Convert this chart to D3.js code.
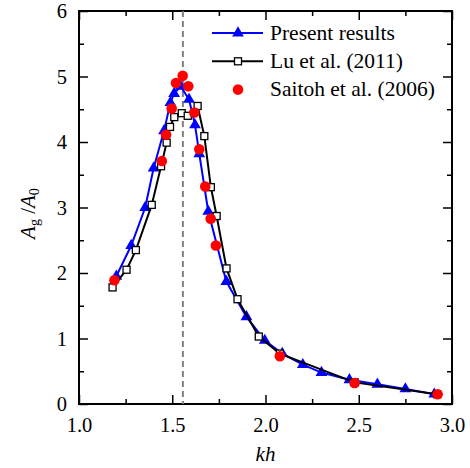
<!DOCTYPE html>
<html>
<head>
<meta charset="utf-8">
<script src="https://cdn.jsdelivr.net/npm/d3@7"></script>
<style>
  body { margin: 0; background: #fff; }
</style>
</head>
<body>
<svg id="chart"></svg>
<script>
// Present results (blue triangles)
const presentKh = [1.20, 1.28, 1.355, 1.40, 1.456, 1.49, 1.51, 1.545, 1.59, 1.622, 1.645, 1.693, 1.79, 1.898, 1.996, 2.09, 2.20, 2.30, 2.45, 2.60, 2.75, 2.905];
const presentA  = [1.95, 2.42, 3.00, 3.60, 4.17, 4.60, 4.74, 4.85, 4.65, 4.26, 3.82, 2.94, 1.87, 1.33, 0.97, 0.77, 0.60, 0.48, 0.37, 0.30, 0.23, 0.15];

// Lu et al. (2011) (black open squares)
const luKh = [1.18, 1.255, 1.305, 1.39, 1.44, 1.47, 1.488, 1.511, 1.551, 1.583, 1.636, 1.672, 1.707, 1.738, 1.791, 1.85, 1.964, 2.077, 2.478, 2.92];
const luA  = [1.78, 2.05, 2.35, 3.04, 3.63, 3.99, 4.23, 4.38, 4.44, 4.40, 4.55, 4.09, 3.31, 2.87, 2.07, 1.60, 1.03, 0.77, 0.33, 0.15];

// Saitoh et al. (2006) (red dots)
const saitohKh = [1.19, 1.444, 1.467, 1.497, 1.52, 1.556, 1.586, 1.618, 1.645, 1.677, 1.706, 1.734, 2.077, 2.478, 2.923];
const saitohA  = [1.89, 3.71, 4.11, 4.51, 4.90, 5.01, 4.85, 4.45, 3.89, 3.32, 2.83, 2.42, 0.73, 0.32, 0.15];

const xMajor = [1.0, 1.5, 2.0, 2.5, 3.0];
const xMinor = [1.25, 1.75, 2.25, 2.75];
const yMajor = [0, 1, 2, 3, 4, 5, 6];
const yMinor = [0.5, 1.5, 2.5, 3.5, 4.5, 5.5];
const resonanceKh = 1.557;

const legendNames = ["Present results", "Lu et al. (2011)", "Saitoh et al. (2006)"];

const FONT = "'Times New Roman', 'Liberation Serif', 'DejaVu Serif', serif";

const W = 470, H = 468;
const margin = {top: 11, right: 18, bottom: 64, left: 79};
const width = W - margin.left - margin.right;
const height = H - margin.top - margin.bottom;

const svg = d3.select("#chart").attr("width", W).attr("height", H)
  .style("font-family", FONT);
const g = svg.append("g").attr("transform", `translate(${margin.left},${margin.top})`);

const x = d3.scaleLinear().domain([1.0, 3.0]).range([0, width]);
const y = d3.scaleLinear().domain([0, 6]).range([height, 0]);

const zip = (a, b) => a.map((v, i) => [v, b[i]]);
const present = zip(presentKh, presentA);
const lu = zip(luKh, luA);
const saitoh = zip(saitohKh, saitohA);

// axes (inward ticks)
const fmt = d3.format(".1f");
function styleAxis(sel) {
  sel.attr("font-family", FONT);
  sel.select(".domain").remove();
  sel.selectAll("line").attr("stroke", "#000").attr("stroke-width", 1.5);
  sel.selectAll("text").attr("font-size", 20.5).attr("fill", "#000").style("font-family", FONT);
}
g.append("g").attr("transform", `translate(0,${height})`)
  .call(d3.axisBottom(x).tickValues(xMajor).tickFormat(fmt).tickSize(-9).tickPadding(13))
  .call(styleAxis);
g.append("g").attr("transform", `translate(0,${height})`)
  .call(d3.axisBottom(x).tickValues(xMinor).tickFormat("").tickSize(-5))
  .call(styleAxis);
g.append("g")
  .call(d3.axisTop(x).tickValues(xMajor).tickFormat("").tickSize(-9))
  .call(styleAxis);
g.append("g")
  .call(d3.axisTop(x).tickValues(xMinor).tickFormat("").tickSize(-5))
  .call(styleAxis);
g.append("g")
  .call(d3.axisLeft(y).tickValues(yMajor).tickFormat(d3.format("d")).tickSize(-9).tickPadding(12))
  .call(styleAxis);
g.append("g")
  .call(d3.axisLeft(y).tickValues(yMinor).tickFormat("").tickSize(-5))
  .call(styleAxis);
g.append("g").attr("transform", `translate(${width},0)`)
  .call(d3.axisRight(y).tickValues(yMajor).tickFormat("").tickSize(-9))
  .call(styleAxis);
g.append("g").attr("transform", `translate(${width},0)`)
  .call(d3.axisRight(y).tickValues(yMinor).tickFormat("").tickSize(-5))
  .call(styleAxis);

g.append("rect")
  .attr("width", width).attr("height", height)
  .attr("fill", "none").attr("stroke", "#000").attr("stroke-width", 2);

// dashed resonance line
g.append("line")
  .attr("x1", x(resonanceKh)).attr("x2", x(resonanceKh))
  .attr("y1", 0).attr("y2", height)
  .attr("stroke", "#808080").attr("stroke-width", 2)
  .attr("stroke-dasharray", "6,4");

const line = d3.line().x(d => x(d[0])).y(d => y(d[1]));
const tri = d3.symbol().type(d3.symbolTriangle).size(60);

// present results
g.append("path").datum(present)
  .attr("d", line).attr("fill", "none").attr("stroke", "#0000ff").attr("stroke-width", 2);
g.selectAll(".tri").data(present).enter().append("path")
  .attr("class", "tri")
  .attr("d", tri)
  .attr("transform", d => `translate(${x(d[0])},${y(d[1])})`)
  .attr("fill", "#0000ff");

// Lu et al.
g.append("path").datum(lu)
  .attr("d", line).attr("fill", "none").attr("stroke", "#000").attr("stroke-width", 2);
g.selectAll(".sq").data(lu).enter().append("rect")
  .attr("class", "sq")
  .attr("x", d => x(d[0]) - 3.5).attr("y", d => y(d[1]) - 3.5)
  .attr("width", 7).attr("height", 7)
  .attr("fill", "#fff").attr("stroke", "#000").attr("stroke-width", 1.3);

// Saitoh et al.
g.selectAll(".dot").data(saitoh).enter().append("circle")
  .attr("class", "dot")
  .attr("cx", d => x(d[0])).attr("cy", d => y(d[1]))
  .attr("r", 5.3).attr("fill", "#ff0000");

// legend
const lg = svg.append("g").attr("transform", "translate(212,33)");
const rowH = 28.3;
lg.append("line").attr("x1", 0).attr("x2", 51).attr("y1", 0).attr("y2", 0)
  .attr("stroke", "#0000ff").attr("stroke-width", 2);
lg.append("path").attr("d", tri).attr("transform", "translate(26,0)").attr("fill", "#0000ff");
lg.append("line").attr("x1", 0).attr("x2", 51).attr("y1", rowH).attr("y2", rowH)
  .attr("stroke", "#000").attr("stroke-width", 2);
lg.append("rect").attr("x", 22.5).attr("y", rowH - 3.5).attr("width", 7).attr("height", 7)
  .attr("fill", "#fff").attr("stroke", "#000").attr("stroke-width", 1.3);
lg.append("circle").attr("cx", 26).attr("cy", 2 * rowH).attr("r", 5.3).attr("fill", "#ff0000");
lg.selectAll(".lt").data(legendNames).enter().append("text")
  .attr("class", "lt")
  .attr("x", 58).attr("y", (d, i) => i * rowH + 6.5)
  .attr("font-size", 21.5).attr("fill", "#000")
  .text(d => d);

// axis titles
svg.append("text")
  .attr("x", margin.left + width / 2).attr("y", 461)
  .attr("text-anchor", "middle").attr("font-size", 21).attr("font-style", "italic")
  .text("kh");

const yt = svg.append("text")
  .attr("transform", `translate(35,${margin.top + height / 2 + 6}) rotate(-90)`)
  .attr("text-anchor", "middle").attr("font-size", 21);
yt.append("tspan").attr("font-style", "italic").text("A");
yt.append("tspan").attr("font-size", 14).attr("dy", 4).text("g");
yt.append("tspan").attr("dy", -4).text(" /");
yt.append("tspan").attr("font-style", "italic").text("A");
yt.append("tspan").attr("font-size", 14).attr("dy", 4).text("0");
</script>
</body>
</html>
